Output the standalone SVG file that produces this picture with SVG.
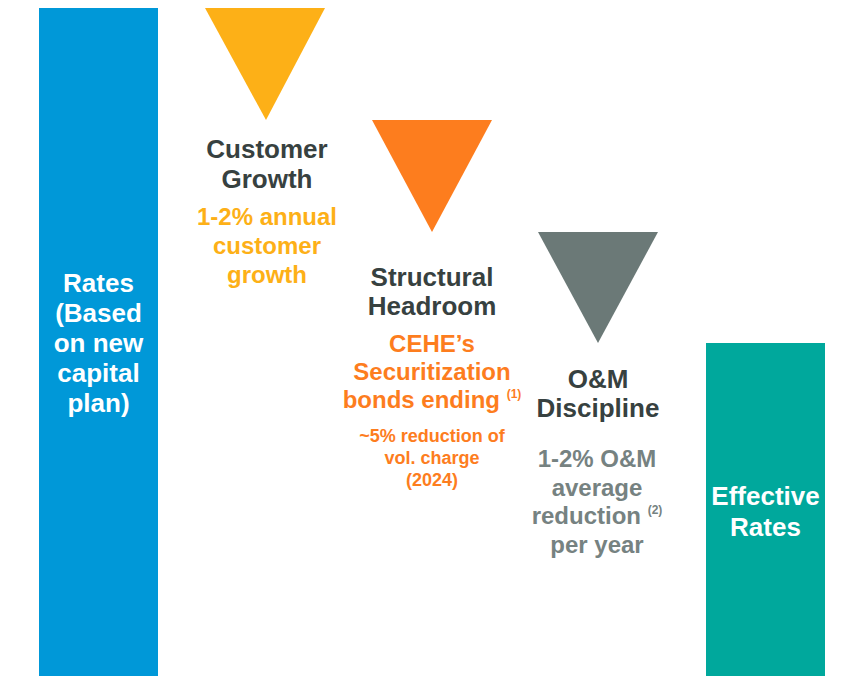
<svg xmlns="http://www.w3.org/2000/svg" width="852" height="676" viewBox="0 0 852 676">
<style>
text{font-family:"Liberation Sans",Arial,sans-serif;font-weight:bold;text-anchor:middle}
.t{font-size:26px;fill:#374140}
.w{font-size:26px;fill:#ffffff}
.s{font-size:24px}
.y{fill:#FDB017}
.o{fill:#FD7D1E}
.g{fill:#768281}
.sup{font-size:12px}
</style>
<rect width="852" height="676" fill="#ffffff"/>
<g id="rates">
<rect x="39" y="8" width="119" height="668" fill="#0098D8"/>
<text class="w" x="98.5"><tspan x="98.5" y="292">Rates</tspan><tspan x="98.5" y="322">(Based</tspan><tspan x="98.5" y="352">on new</tspan><tspan x="98.5" y="382">capital</tspan><tspan x="98.5" y="412">plan)</tspan></text>
</g>
<g id="customer-growth">
<polygon points="205,8 325,8 266,120" fill="#FDB017"/>
<text class="t"><tspan x="267" y="158">Customer</tspan><tspan x="267" y="188">Growth</tspan></text>
<text class="s y"><tspan x="267" y="225">1-2% annual</tspan><tspan x="267" y="254">customer</tspan><tspan x="267" y="283">growth</tspan></text>
</g>
<g id="structural-headroom">
<polygon points="372,120 492,120 432,232" fill="#FD7D1E"/>
<text class="t"><tspan x="432" y="286">Structural</tspan><tspan x="432" y="315">Headroom</tspan></text>
<text class="s o"><tspan x="432" y="352">CEHE’s</tspan><tspan x="432" y="380">Securitization</tspan><tspan x="432" y="408">bonds ending <tspan class="sup" dy="-10">(1)</tspan></tspan></text>
<text class="o" style="font-size:18px"><tspan x="432" y="442">~5% reduction of</tspan><tspan x="432" y="464">vol. charge</tspan><tspan x="432" y="486">(2024)</tspan></text>
</g>
<g id="om-discipline">
<polygon points="538,232 658,232 598,343" fill="#6B7977"/>
<text class="t"><tspan x="598" y="388">O&amp;M</tspan><tspan x="598" y="417">Discipline</tspan></text>
<text class="s g"><tspan x="597" y="467">1-2% O&amp;M</tspan><tspan x="597" y="496">average</tspan><tspan x="597" y="524">reduction <tspan class="sup" dy="-10">(2)</tspan></tspan><tspan x="597" y="553">per year</tspan></text>
</g>
<g id="effective-rates">
<rect x="706" y="343" width="119" height="333" fill="#00A89C"/>
<text class="w"><tspan x="765.5" y="505">Effective</tspan><tspan x="765.5" y="536">Rates</tspan></text>
</g>
<g id="connectors"></g>
</svg>
